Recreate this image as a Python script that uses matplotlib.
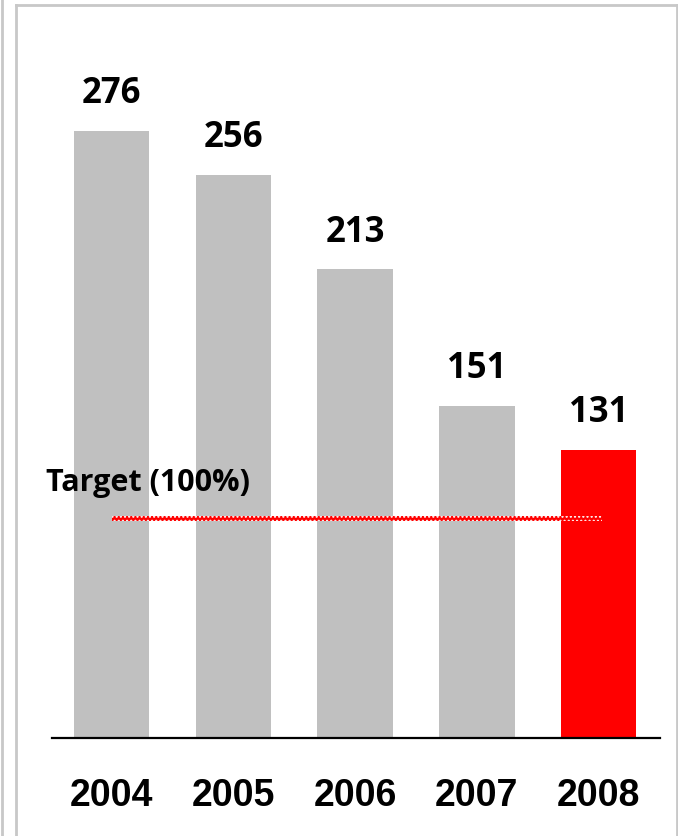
import matplotlib
matplotlib.use("Agg")
import matplotlib.pyplot as plt
from matplotlib.lines import Line2D
from matplotlib.patches import Rectangle

years = ["2004", "2005", "2006", "2007", "2008"]
values = [276, 256, 213, 151, 131]
bar_colors = ["#c0c0c0", "#c0c0c0", "#c0c0c0", "#c0c0c0", "#ff0000"]
target_value = 100
target_label = "Target (100%)"

plt.rcParams["hatch.linewidth"] = 1.0

W, H, DPI = 678, 836, 100
fig = plt.figure(figsize=(W / DPI, H / DPI), dpi=DPI)
fig.patch.set_facecolor("white")

ax_left, ax_right, ax_bottom, ax_top = 52, 660, 738, 20
ax = fig.add_axes([ax_left / W, (H - ax_bottom) / H,
                   (ax_right - ax_left) / W, (ax_bottom - ax_top) / H])
ax.set_facecolor("none")

x = list(range(len(years)))
ax.bar(x, values, width=0.62, color=bar_colors, zorder=2)
ax.set_xlim(-0.49, 4.505)
ax.set_ylim(0, (ax_bottom - ax_top) / 2.2)

for xi, v in zip(x, values):
    ax.annotate(str(v), (xi, v), xytext=(0, 20), textcoords="offset points",
                ha="center", va="baseline", fontsize=25, fontweight="bold",
                family="Open Sans", color="black", zorder=4)

# target line (patterned band)
band_h = 5 / 2.2
ax.add_patch(Rectangle((0, target_value - band_h / 2), 4.03, band_h,
                       facecolor="#ff0000", edgecolor="white", hatch="....",
                       lw=0, zorder=3))
ax.text(-0.538, 112.3, target_label, ha="left", va="baseline", fontsize=22,
        fontweight="bold", family="Open Sans", color="black", clip_on=False, zorder=4)

ax.set_xticks(x)
ax.set_xticklabels(years, fontsize=27, fontweight="bold", family="Liberation Sans")
ax.tick_params(axis="x", length=0, pad=29)
ax.set_yticks([])
for s in ["left", "right", "top"]:
    ax.spines[s].set_visible(False)
ax.spines["bottom"].set_linewidth(1.6)
ax.spines["bottom"].set_color("black")
ax.spines["bottom"].set_zorder(5)

gc = "#c8c8c8"
def fl(x0, y0, x1, y1, lw=2.0):
    fig.add_artist(Line2D([x0 / W, x1 / W], [1 - y0 / H, 1 - y1 / H],
                          transform=fig.transFigure, color=gc, lw=lw))
fl(2, 0, 2, H)
fl(16, 5, 16, H)
fl(16, 5, 677, 5)
fl(677, 5, 677, H)

fig.savefig("out.png", dpi=DPI, facecolor="white")
